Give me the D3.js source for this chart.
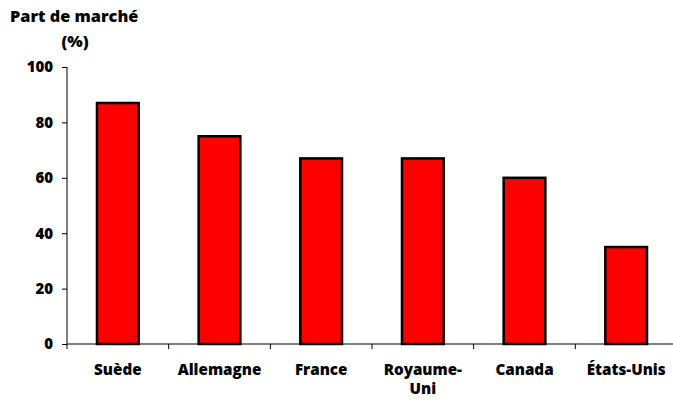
<!DOCTYPE html>
<html>
<head>
<meta charset="utf-8">
<script src="https://cdn.jsdelivr.net/npm/d3@7"></script>
<style>
  body { margin: 0; background: #fff; }
  svg { display: block; }
  text { font-family: "Open Sans", Lato, sans-serif; font-weight: 800; fill: #000; }
</style>
</head>
<body>
<script>
// Market share by country
const countries = ["Suède", "Allemagne", "France", "Royaume-Uni", "Canada", "États-Unis"];
const countryLines = [["Suède"], ["Allemagne"], ["France"], ["Royaume-", "Uni"], ["Canada"], ["États-Unis"]];
const shares = [87, 75, 67, 67, 60, 35];
const yTicks = [0, 20, 40, 60, 80, 100];

const width = 673, height = 400;
const svg = d3.select("body").append("svg")
  .attr("width", width).attr("height", height);

const x = d3.scaleBand().domain(countries).range([67, 677]).paddingInner(0.59).paddingOuter(0.295);
const y = d3.scaleLinear().domain([0, 100]).range([344, 67]);

// Bars
svg.append("g").selectAll("rect")
  .data(countries)
  .join("rect")
  .attr("x", d => x(d))
  .attr("y", (d, i) => y(shares[i]))
  .attr("width", x.bandwidth())
  .attr("height", (d, i) => y(0) - y(shares[i]))
  .attr("fill", "#ff0000")
  .attr("stroke", "#000")
  .attr("stroke-width", 2.5);

// Y axis
const yAxis = svg.append("g")
  .attr("transform", "translate(67,0)")
  .call(d3.axisLeft(y).tickValues(yTicks).tickSize(5).tickPadding(9).tickFormat(d3.format("d")));
yAxis.select(".domain").attr("stroke", "#000").attr("d", `M0,${y(100)}V${y(0)}`);
yAxis.selectAll("text").style("font-size", "15px");

// X axis: ticks sit at category boundaries
const step = x.step();
const boundaries = d3.range(countries.length + 1).map(i => 67 + i * step);
const xAxis = svg.append("g");
xAxis.append("line")
  .attr("x1", 67).attr("x2", 677)
  .attr("y1", y(0)).attr("y2", y(0))
  .attr("stroke", "#000");
xAxis.selectAll("line.tick")
  .data(boundaries)
  .join("line")
  .attr("class", "tick")
  .attr("x1", d => d).attr("x2", d => d)
  .attr("y1", y(0)).attr("y2", y(0) + 5)
  .attr("stroke", "#000");

const labels = svg.append("g").selectAll("text")
  .data(countries)
  .join("text")
  .attr("text-anchor", "middle")
  .style("font-size", "15.2px")
  .attr("x", d => x(d) + x.bandwidth() / 2)
  .attr("y", 375);
labels.each(function(d, i) {
  const t = d3.select(this);
  countryLines[i].forEach((line, j) => {
    t.append("tspan")
      .attr("x", x(d) + x.bandwidth() / 2)
      .attr("dy", j === 0 ? 0 : 19)
      .text(line);
  });
});

// Axis title
svg.append("text").attr("x", 10).attr("y", 22).style("font-size", "16.3px").text("Part de marché");
svg.append("text").attr("x", 75).attr("y", 47).attr("text-anchor", "middle").style("font-size", "16.3px").text("(%)");
</script>
</body>
</html>
